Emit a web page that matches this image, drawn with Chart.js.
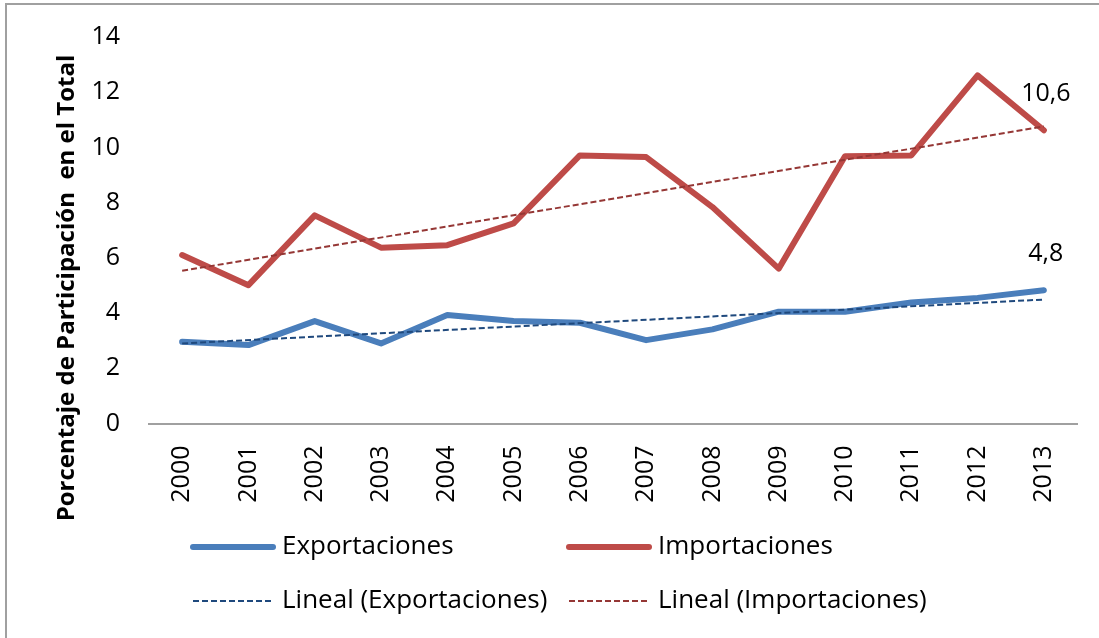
<!DOCTYPE html>
<html>
<head>
<meta charset="utf-8">
<script src="https://cdn.jsdelivr.net/npm/chart.js@4/dist/chart.umd.min.js"></script>
<style>
  html, body { margin: 0; padding: 0; background: #fff; }
  #wrap { width: 1099px; height: 638px; }
</style>
</head>
<body>
<div id="wrap"><canvas id="c" width="1099" height="638"></canvas></div>
<script>
// ---- data ----
const years = ['2000','2001','2002','2003','2004','2005','2006','2007','2008','2009','2010','2011','2012','2013'];
const exportaciones = [2.96, 2.84, 3.71, 2.90, 3.93, 3.71, 3.65, 3.02, 3.41, 4.05, 4.05, 4.38, 4.55, 4.83];
const importaciones = [6.10, 5.01, 7.54, 6.37, 6.46, 7.25, 9.71, 9.65, 7.84, 5.61, 9.68, 9.71, 12.61, 10.62];
const trendExport = [2.90, 4.49];   // start (2000), end (2013)
const trendImport = [5.53, 10.76];  // start (2000), end (2013)
const yTicks = [0, 2, 4, 6, 8, 10, 12, 14];
const yTitle = 'Porcentaje de Participación  en el Total';
const seriesNames = ['Exportaciones', 'Importaciones', 'Lineal (Exportaciones)', 'Lineal (Importaciones)'];

const FONT = '"Open Sans", Lato, sans-serif';
const endpoints = (pair) => years.map((_, i) => i === 0 ? pair[0] : (i === years.length - 1 ? pair[1] : null));

const frame = {
  id: 'frame',
  beforeDraw(chart) {
    const ctx = chart.ctx;
    ctx.save();
    ctx.fillStyle = '#fff';
    ctx.fillRect(0, 0, chart.width, chart.height);
    ctx.strokeStyle = '#a0a0a0';
    ctx.lineWidth = 2;
    ctx.strokeRect(6, 4, chart.width + 50, chart.height + 50);
    ctx.restore();
  }
};

const yTitlePlugin = {
  id: 'yTitlePlugin',
  afterDraw(chart) {
    const ctx = chart.ctx;
    ctx.save();
    ctx.font = 'bold 24px ' + FONT;
    const w = ctx.measureText(yTitle).width;
    const sx = Math.min(1, 477 / w);
    ctx.translate(67, 288);
    ctx.rotate(-Math.PI / 2);
    ctx.scale(sx, 1);
    ctx.textAlign = 'center';
    ctx.textBaseline = 'middle';
    ctx.fillStyle = '#000';
    ctx.fillText(yTitle, 0, 0);
    ctx.restore();
  }
};

const endLabels = {
  id: 'endLabels',
  afterDatasetsDraw(chart) {
    const ctx = chart.ctx;
    ctx.save();
    ctx.font = '25px ' + FONT;
    ctx.fillStyle = '#000';
    ctx.textAlign = 'center';
    ctx.textBaseline = 'middle';
    [0, 1].forEach(di => {
      const meta = chart.getDatasetMeta(di);
      const last = meta.data.length - 1;
      const pt = meta.data[last];
      const v = chart.data.datasets[di].data[last];
      ctx.fillText(v.toFixed(1).replace('.', ','), pt.x + 2, pt.y - 36);
    });
    ctx.restore();
  }
};

const customLegend = {
  id: 'customLegend',
  afterDraw(chart) {
    const ctx = chart.ctx;
    const cols = [193, 569];
    const rows = [547, 601];
    ctx.save();
    ctx.font = '26px ' + FONT;
    ctx.textBaseline = 'middle';
    ctx.textAlign = 'left';
    chart.data.datasets.forEach((ds, i) => {
      const x = cols[i % 2];
      const y = rows[Math.floor(i / 2)];
      ctx.save();
      ctx.strokeStyle = ds.borderColor;
      ctx.lineWidth = ds.borderWidth;
      ctx.lineCap = ds.borderDash && ds.borderDash.length ? 'butt' : 'round';
      ctx.setLineDash(ds.borderDash || []);
      ctx.beginPath();
      ctx.moveTo(x, y);
      ctx.lineTo(x + 80, y);
      ctx.stroke();
      ctx.restore();
      ctx.fillStyle = '#000';
      ctx.fillText(ds.label, x + 89, y);
    });
    ctx.restore();
  }
};

new Chart(document.getElementById('c'), {
  type: 'line',
  data: {
    labels: years,
    datasets: [
      { label: seriesNames[0], data: exportaciones, borderColor: '#4a7ebb', borderWidth: 6,
        borderCapStyle: 'round', borderJoinStyle: 'round', pointRadius: 0, order: 1 },
      { label: seriesNames[1], data: importaciones, borderColor: '#be4b48', borderWidth: 6,
        borderCapStyle: 'round', borderJoinStyle: 'round', pointRadius: 0, order: 1 },
      { label: seriesNames[2], data: endpoints(trendExport), borderColor: '#1f497d', borderWidth: 2,
        borderDash: [6, 3], pointRadius: 0, spanGaps: true, order: 0 },
      { label: seriesNames[3], data: endpoints(trendImport), borderColor: '#953735', borderWidth: 2,
        borderDash: [6, 3], pointRadius: 0, spanGaps: true, order: 0 }
    ]
  },
  options: {
    responsive: false,
    animation: false,
    events: [],
    layout: { padding: { top: 37, right: 22, bottom: 114.5, left: 0 } },
    plugins: {
      legend: { display: false },
      tooltip: { enabled: false }
    },
    scales: {
      x: {
        offset: true,
        grid: { display: false, drawTicks: false },
        border: { display: true, color: '#a0a0a0', width: 2 },
        ticks: { maxRotation: 90, minRotation: 90, padding: 22, color: '#000',
                 font: { family: FONT, size: 25 } },
        afterFit(scale) { scale.height = 100; }
      },
      y: {
        min: 0, max: 14,
        grid: { display: false, drawTicks: false },
        border: { display: false },
        afterBuildTicks(scale) { scale.ticks = yTicks.map(v => ({ value: v })); },
        ticks: { padding: 29, color: '#000', font: { family: FONT, size: 25 } },
        afterFit(scale) {
          scale.width = 149;
          scale.paddingTop = 0;
          scale.paddingBottom = 0;
        }
      }
    }
  },
  plugins: [frame, yTitlePlugin, endLabels, customLegend]
});
</script>
</body>
</html>
